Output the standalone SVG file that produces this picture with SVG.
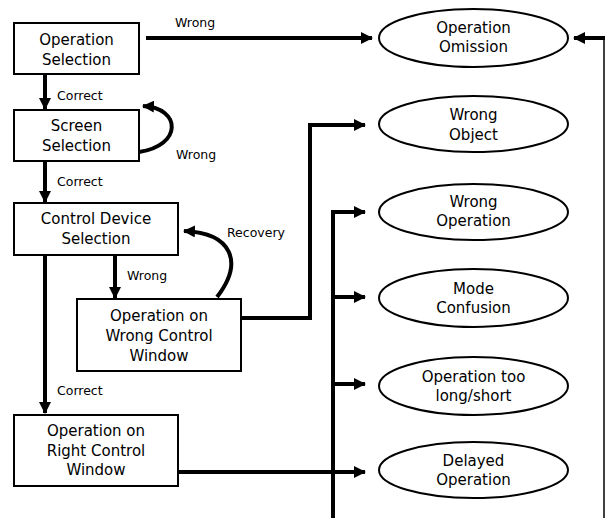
<svg xmlns="http://www.w3.org/2000/svg" width="605" height="518" viewBox="0 0 605 518">
<defs>
<marker id="ah" markerUnits="userSpaceOnUse" markerWidth="12" markerHeight="12" viewBox="0 0 12 12" refX="11" refY="6" orient="auto">
<path d="M0,0 L12,6 L0,12 Z" fill="#000"/>
</marker>
<style>
.box{fill:#fff;stroke:#000;stroke-width:2}
.ell{fill:#fff;stroke:#000;stroke-width:2}
.t{font-family:"DejaVu Sans",sans-serif;font-size:15px;text-anchor:middle;fill:#000}
.l{font-family:"DejaVu Sans",sans-serif;font-size:12.5px;fill:#000}
.c{fill:none;stroke:#000;stroke-width:4}
.ca{fill:none;stroke:#000;stroke-width:4;marker-end:url(#ah)}
</style>
</defs>
<rect width="605" height="518" fill="#fff"/>
<g id="connectors">
<line class="ca" x1="146" y1="38" x2="372" y2="38"/>
<line class="ca" x1="45" y1="74" x2="45" y2="109"/>
<path class="ca" d="M139,152 C182,146 182,108 143,106"/>
<line class="ca" x1="45" y1="161" x2="45" y2="202"/>
<line class="ca" x1="45" y1="255" x2="45" y2="413"/>
<line class="ca" x1="115" y1="255" x2="115" y2="298"/>
<path class="ca" d="M217,297 C244,262 232,233 184,231"/>
<path class="ca" d="M241,318 L310,318 L310,125 L365,125"/>
<line class="c" x1="333" y1="212" x2="333" y2="518"/>
<line class="ca" x1="331" y1="212" x2="365" y2="212"/>
<line class="ca" x1="333" y1="297" x2="365" y2="297"/>
<line class="ca" x1="333" y1="384" x2="365" y2="384"/>
<line class="ca" x1="178" y1="472" x2="365" y2="472"/>
<line x1="604" y1="38" x2="604" y2="518" stroke="#000" stroke-width="1.5"/>
<line class="ca" x1="605" y1="38" x2="574" y2="38"/>
<text class="l" x="175" y="27">Wrong</text>
<text class="l" x="57" y="100">Correct</text>
<text class="l" x="176" y="159">Wrong</text>
<text class="l" x="57" y="186">Correct</text>
<text class="l" x="227" y="237">Recovery</text>
<text class="l" x="127" y="280">Wrong</text>
<text class="l" x="57" y="395">Correct</text>
</g>
<g id="op-selection">
<rect class="box" x="14" y="23" width="125" height="51"/>
<text class="t" x="76.5" y="45">Operation</text>
<text class="t" x="76.5" y="65">Selection</text>
</g>
<g id="screen-selection">
<rect class="box" x="14" y="110" width="125" height="51"/>
<text class="t" x="76.5" y="131">Screen</text>
<text class="t" x="76.5" y="151">Selection</text>
</g>
<g id="control-device-selection">
<rect class="box" x="14" y="203" width="164" height="52"/>
<text class="t" x="96" y="224">Control Device</text>
<text class="t" x="96" y="244">Selection</text>
</g>
<g id="op-wrong-window">
<rect class="box" x="77" y="299" width="164" height="72"/>
<text class="t" x="159" y="321">Operation on</text>
<text class="t" x="159" y="341">Wrong Control</text>
<text class="t" x="159" y="361">Window</text>
</g>
<g id="op-right-window">
<rect class="box" x="14" y="415" width="164" height="71"/>
<text class="t" x="96" y="436">Operation on</text>
<text class="t" x="96" y="456">Right Control</text>
<text class="t" x="96" y="475">Window</text>
</g>
<g id="operation-omission">
<ellipse class="ell" cx="473.5" cy="38" rx="94.5" ry="29"/>
<text class="t" x="473.5" y="33">Operation</text>
<text class="t" x="473.5" y="52">Omission</text>
</g>
<g id="wrong-object">
<ellipse class="ell" cx="473.5" cy="124" rx="94.5" ry="28"/>
<text class="t" x="473.5" y="120">Wrong</text>
<text class="t" x="473.5" y="140">Object</text>
</g>
<g id="wrong-operation">
<ellipse class="ell" cx="473.5" cy="212" rx="94.5" ry="28"/>
<text class="t" x="473.5" y="207">Wrong</text>
<text class="t" x="473.5" y="226">Operation</text>
</g>
<g id="mode-confusion">
<ellipse class="ell" cx="473.5" cy="298" rx="94.5" ry="29"/>
<text class="t" x="473.5" y="294">Mode</text>
<text class="t" x="473.5" y="313">Confusion</text>
</g>
<g id="op-too-long-short">
<ellipse class="ell" cx="473.5" cy="386" rx="94.5" ry="29"/>
<text class="t" x="473.5" y="382">Operation too</text>
<text class="t" x="473.5" y="401">long/short</text>
</g>
<g id="delayed-operation">
<ellipse class="ell" cx="473.5" cy="470" rx="94.5" ry="28"/>
<text class="t" x="473.5" y="466">Delayed</text>
<text class="t" x="473.5" y="485">Operation</text>
</g>
</svg>
